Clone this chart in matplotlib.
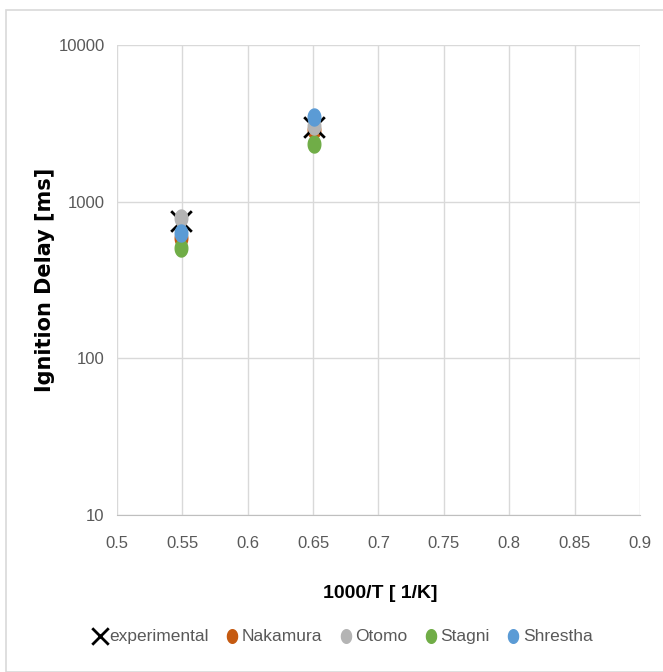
import numpy as np
import matplotlib.pyplot as plt
from matplotlib.path import Path
from matplotlib.patches import Rectangle

# ignition delay data, 1000/T in 1/K, delay in ms
x_vals = [0.549, 0.651]
experimental = [757, 3000]
nakamura = [590, 2875]
otomo = [791, 3020]
stagni = [507, 2330]
shrestha = [632, 3490]

x_ticks = [0.5, 0.55, 0.6, 0.65, 0.7, 0.75, 0.8, 0.85, 0.9]
x_tick_labels = ['0.5', '0.55', '0.6', '0.65', '0.7', '0.75', '0.8', '0.85', '0.9']
y_ticks = [10, 100, 1000, 10000]

plt.rcParams['font.family'] = ['Liberation Sans', 'DejaVu Sans']

# slightly tall ellipse for the model markers
t = np.linspace(0, 2 * np.pi, 60)
ellipse = Path(np.column_stack([np.cos(t), 1.35 * np.sin(t)]), closed=True)

fig = plt.figure(figsize=(6.63, 6.72), dpi=100)
fig.patches.append(Rectangle((6 / 663, 0), 1, 1 - 10 / 672, transform=fig.transFigure,
                             fill=False, edgecolor='#d9d9d9', linewidth=1.2))
ax = fig.add_axes([117 / 663, 1 - 515 / 672, 523 / 663, 470 / 672])

ax.scatter(x_vals, nakamura, marker=ellipse, s=150, color='#c55a11', zorder=3, label='Nakamura')
ax.scatter(x_vals, otomo, marker=ellipse, s=150, color='#b4b4b4', zorder=4, label='Otomo')
ax.scatter(x_vals, stagni, marker=ellipse, s=150, color='#70ad47', zorder=3, label='Stagni')
ax.scatter(x_vals, experimental, marker='x', s=220, color='black', linewidths=2, zorder=3,
           label='experimental')
ax.scatter(x_vals, shrestha, marker=ellipse, s=150, color='#5b9bd5', zorder=5, label='Shrestha')

ax.set_yscale('log')
ax.set_xlim(0.5, 0.9)
ax.set_ylim(10, 10000)
ax.set_xticks(x_ticks)
ax.set_xticklabels(x_tick_labels)
ax.set_yticks(y_ticks)
ax.set_yticklabels([str(v) for v in y_ticks])
ax.yaxis.set_minor_locator(plt.NullLocator())
ax.tick_params(length=0, labelsize=12, colors='#595959', pad=9)
ax.tick_params(axis='x', pad=15)

ax.grid(True, color='#d9d9d9', linewidth=1)
ax.set_axisbelow(True)
for side in ['top', 'right', 'left']:
    ax.spines[side].set_visible(False)
ax.spines['bottom'].set_color('#bfbfbf')

ax.set_xlabel('1000/T [ 1/K]', fontsize=14, fontweight='bold')
ax.xaxis.set_label_coords((380 - 117) / 523, -(593 - 515) / 470)
ax.set_ylabel('Ignition Delay [ms]', fontsize=15, fontweight='bold', family='DejaVu Sans')
ax.yaxis.set_label_coords((45 - 117) / 523, 0.5)
ax.xaxis.label.set_va('center')
ax.yaxis.label.set_va('center')

handles, labels = ax.get_legend_handles_labels()
order = [3, 0, 1, 2, 4]
fig.legend([handles[i] for i in order], [labels[i] for i in order],
           loc='center', bbox_to_anchor=(0.515, 1 - 636 / 672), ncol=5, frameon=False,
           fontsize=12.5, handletextpad=0.0, columnspacing=0.8, markerscale=0.8,
           handlelength=1.1, labelcolor='#595959')

fig.savefig('out.png', dpi=100)
